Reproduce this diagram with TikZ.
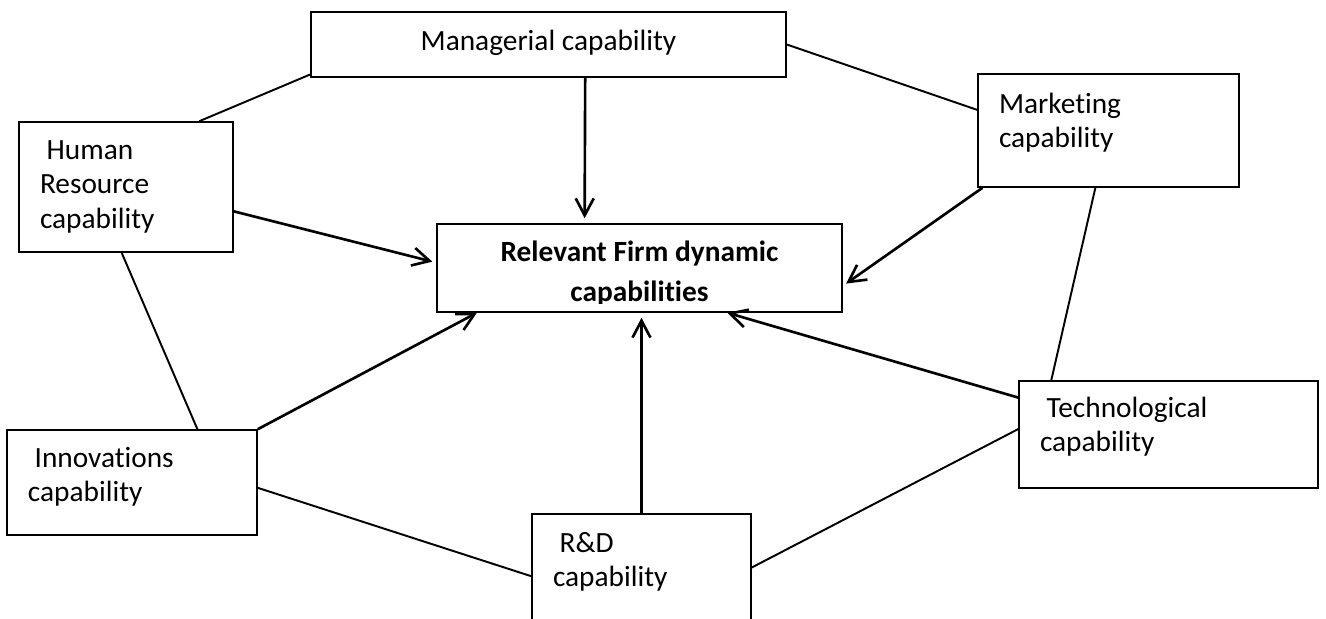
\documentclass[tikz,border=0pt]{standalone}
\usepackage{fontspec}
\setmainfont{Carlito}[Ligatures=NoCommon]
\usepackage{tikz}
\usetikzlibrary{arrows.meta, positioning, calc}

\tikzset{
  capbox/.style={draw, line width=0.9pt, inner xsep=0.42cm, inner ysep=0pt, align=left, font=\fontsize{16.7}{19.8}\selectfont,
    execute at begin node={\spaceskip=\fontdimen2\font\relax}},
  relbox/.style={draw, line width=0.9pt, inner sep=0pt, minimum width=8.1cm, minimum height=1.76cm},
  reltext/.style={inner sep=0pt, align=center, text width=7.26cm, font=\fontsize{16.7}{22.7}\selectfont\bfseries,
    execute at begin node={\spaceskip=\fontdimen2\font\relax}},
  link/.style={line width=1.1pt},
  arr/.style={line width=1.5pt, -{Straight Barb[length=3.4mm, width=3.6mm]}},
}

\begin{document}
\begin{tikzpicture}
  \clip (0,0) rectangle (26.52,-12.38);

  % Boxes
  \node[capbox, align=center, text width=8.66cm, text height=0.76cm, text depth=0.54cm] (mgr) at (10.97,-0.89) {Managerial capability};
  \node[capbox, text width=4.38cm, text height=0.78cm, text depth=1.48cm] (mkt) at (22.17,-2.61) {Marketing\\capability};
  \node[capbox, text width=3.44cm, text height=0.74cm, text depth=1.86cm] (hr) at (2.52,-3.74) {~Human\\Resource\\capability};
  \node[capbox, text width=5.14cm, text height=0.72cm, text depth=1.42cm] (tech) at (23.37,-8.69) {~Technological\\capability};
  \node[capbox, text width=4.16cm, text height=0.74cm, text depth=1.36cm] (inn) at (2.64,-9.65) {~Innovations\\capability};
  \node[capbox, text width=3.54cm, text height=0.76cm, text depth=1.38cm] (rd) at (12.83,-11.35) {~R\&D\\capability};

  % Centre box, text cut by the box
  \node[relbox] (rel) at (12.79,-5.36) {};
  \begin{scope}
    \clip ([yshift=0.19cm]rel.south west) rectangle (rel.north east);
    \node[reltext, anchor=base] (reltxt) at ([yshift=-0.76cm]rel.north) {Relevant Firm dynamic\\capabilities};
  \end{scope}

  % Lines
  \draw[link] ($(mgr.south west)!0.05!(mgr.north west)$) -- ($(hr.north west)!0.84!(hr.north east)$);
  \draw[link] (mgr.east) -- ($(mkt.north west)!0.32!(mkt.south west)$);
  \draw[link] ($(hr.south west)!0.48!(hr.south east)$) -- ($(inn.north west)!0.76!(inn.north east)$);
  \draw[link] ($(mkt.south west)!0.45!(mkt.south east)$) -- ($(tech.north west)!0.11!(tech.north east)$);
  \draw[link] ($(inn.north east)!0.55!(inn.south east)$) -- ($(rd.north west)!0.58!(rd.south west)$);
  \draw[link] (rd.east) -- ($(tech.north west)!0.45!(tech.south west)$);

  % Arrows
  \draw[arr, shorten >=0.1cm] ($(mgr.south west)!0.577!(mgr.south east)$) -- ($(rel.north west)!0.365!(rel.north east)$);
  \draw[arr, shorten >=0.08cm] ($(hr.north east)!0.685!(hr.south east)$) -- ($(rel.north west)!0.44!(rel.south west)$);
  \draw[arr, shorten >=0.08cm] ($(mkt.south west)!0.02!(mkt.south east)$) -- ($(rel.north east)!0.70!(rel.south east)$);
  \draw[arr] (inn.north east) -- ($(rel.south west)!0.10!(rel.south east)$);
  \draw[arr, shorten >=0.1cm] (rd.north) -- (rd.north |- rel.south);
  \draw[arr] ($(tech.north west)!0.16!(tech.south west)$) -- ($(rel.south west)!0.716!(rel.south east)$);
\end{tikzpicture}
\end{document}
